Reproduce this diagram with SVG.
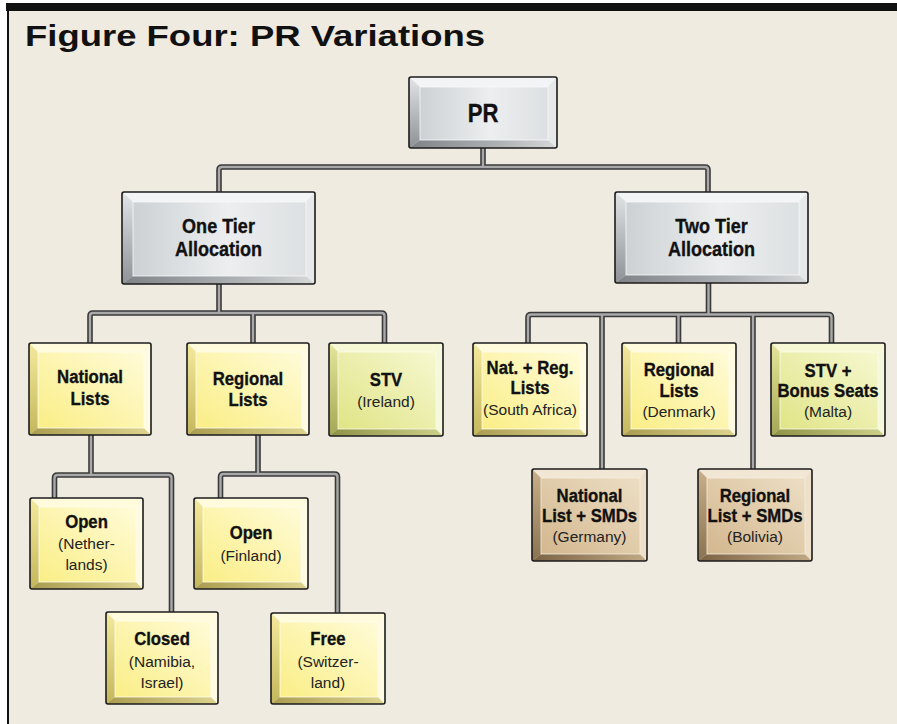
<svg xmlns="http://www.w3.org/2000/svg" width="897" height="724" viewBox="0 0 897 724">
<defs>
<style>
.b{font-family:"Liberation Sans",Arial,sans-serif;font-weight:bold;font-size:19px;fill:#111;stroke:#111;stroke-width:0.35;text-anchor:middle}
.b2{font-family:"Liberation Sans",Arial,sans-serif;font-weight:bold;font-size:20.5px;fill:#111;stroke:#111;stroke-width:0.35;text-anchor:middle}
.r{font-family:"Liberation Sans",Arial,sans-serif;font-size:15.5px;fill:#222;text-anchor:middle}
.ol{fill:none;stroke:#1c1c1c;stroke-width:1.6}
.co{fill:none;stroke:#3a3a3a;stroke-width:5.6;stroke-linejoin:round;stroke-linecap:butt}
.ci{fill:none;stroke:#a9a9a9;stroke-width:2.4;stroke-linejoin:round;stroke-linecap:butt}
.gT{fill:#f3f4f5}.gL{fill:url(#gLg)}.gB{fill:url(#gBg)}.gR{fill:#e6e8ea}.gF{fill:url(#gFg);stroke:#f8f9fa;stroke-width:0.8}
.yT{fill:#fffbdc}.yL{fill:url(#yLg)}.yB{fill:url(#yBg)}.yR{fill:#fffbe2}.yF{fill:url(#yFg);stroke:#fffdf0;stroke-width:0.8}
.vT{fill:#f7f9d6}.vL{fill:url(#vLg)}.vB{fill:url(#vBg)}.vR{fill:#f6f8dc}.vF{fill:url(#vFg);stroke:#fbfce8;stroke-width:0.8}
.tT{fill:#f2e7d4}.tL{fill:url(#tLg)}.tB{fill:url(#tBg)}.tR{fill:#eee0c8}.tF{fill:url(#tFg);stroke:#f6eee0;stroke-width:0.8}
</style>
<linearGradient id="gLg" x1="0" y1="0" x2="0" y2="1"><stop offset="0" stop-color="#e2e4e6"/><stop offset="1" stop-color="#8e9296"/></linearGradient>
<linearGradient id="gBg" x1="0" y1="0" x2="1" y2="0"><stop offset="0" stop-color="#7f8387"/><stop offset="0.6" stop-color="#aeb1b4"/><stop offset="1" stop-color="#d6d8da"/></linearGradient>
<linearGradient id="gFg" x1="0" y1="0" x2="1" y2="0"><stop offset="0" stop-color="#cdd1d4"/><stop offset="0.55" stop-color="#eceeef"/><stop offset="1" stop-color="#dde0e2"/></linearGradient>
<linearGradient id="yLg" x1="0" y1="0" x2="0" y2="1"><stop offset="0" stop-color="#f4ea9c"/><stop offset="1" stop-color="#c4b65c"/></linearGradient>
<linearGradient id="yBg" x1="0" y1="0" x2="1" y2="0"><stop offset="0" stop-color="#a99c50"/><stop offset="1" stop-color="#ded48e"/></linearGradient>
<linearGradient id="yFg" x1="0" y1="1" x2="1" y2="0"><stop offset="0" stop-color="#faee86"/><stop offset="1" stop-color="#fffbd8"/></linearGradient>
<linearGradient id="vLg" x1="0" y1="0" x2="0" y2="1"><stop offset="0" stop-color="#e4e79a"/><stop offset="1" stop-color="#a3a754"/></linearGradient>
<linearGradient id="vBg" x1="0" y1="0" x2="1" y2="0"><stop offset="0" stop-color="#8e9246"/><stop offset="1" stop-color="#ccd08a"/></linearGradient>
<linearGradient id="vFg" x1="0" y1="1" x2="1" y2="0"><stop offset="0" stop-color="#e0e486"/><stop offset="1" stop-color="#f6f8d0"/></linearGradient>
<linearGradient id="tLg" x1="0" y1="0" x2="0" y2="1"><stop offset="0" stop-color="#c9b08a"/><stop offset="1" stop-color="#8a7250"/></linearGradient>
<linearGradient id="tBg" x1="0" y1="0" x2="1" y2="0"><stop offset="0" stop-color="#7a6244"/><stop offset="1" stop-color="#c0aa86"/></linearGradient>
<linearGradient id="tFg" x1="0" y1="1" x2="1" y2="0"><stop offset="0" stop-color="#d3b78e"/><stop offset="1" stop-color="#ecdec4"/></linearGradient>
</defs>
<rect x="0" y="0" width="897" height="724" fill="#ffffff"/>
<rect x="8" y="3" width="889" height="721" fill="#efebe1"/>
<rect x="6" y="3" width="891" height="8" fill="#111"/>
<rect x="7" y="3" width="2" height="721" fill="#111"/>
<text x="25" y="46" font-family="Liberation Sans, Arial, sans-serif" font-weight="bold" font-size="30" fill="#111" textLength="460" lengthAdjust="spacingAndGlyphs">Figure Four: PR Variations</text>

<g id="connectors">
<path class="co" d="M483,148 V167 M219,192 V170 Q219,167 222,167 H705 Q708,167 708,170 V192"/>
<path class="ci" d="M483,148 V167 M219,192 V170 Q219,167 222,167 H705 Q708,167 708,170 V192"/>
<path class="co" d="M219,284 V313 M90,343 V316 Q90,313 93,313 H381.5 Q384.5,313 384.5,316 V343 M253,313 V343"/>
<path class="ci" d="M219,284 V313 M90,343 V316 Q90,313 93,313 H381.5 Q384.5,313 384.5,316 V343 M253,313 V343"/>
<path class="co" d="M708.5,283 V314.5 M528,343 V317.5 Q528,314.5 531,314.5 H828.5 Q831.5,314.5 831.5,317.5 V343 M602,314.5 V469 M678.5,314.5 V343 M753,314.5 V469"/>
<path class="ci" d="M708.5,283 V314.5 M528,343 V317.5 Q528,314.5 531,314.5 H828.5 Q831.5,314.5 831.5,317.5 V343 M602,314.5 V469 M678.5,314.5 V343 M753,314.5 V469"/>
<path class="co" d="M91,435 V475 M54.5,498 V478 Q54.5,475 57.5,475 H168.5 Q171.5,475 171.5,478 V612"/>
<path class="ci" d="M91,435 V475 M54.5,498 V478 Q54.5,475 57.5,475 H168.5 Q171.5,475 171.5,478 V612"/>
<path class="co" d="M258,435 V474 M220.5,498 V477 Q220.5,474 223.5,474 H334.5 Q337.5,474 337.5,477 V613"/>
<path class="ci" d="M258,435 V474 M220.5,498 V477 Q220.5,474 223.5,474 H334.5 Q337.5,474 337.5,477 V613"/>
</g>

<g id="node-pr" transform="translate(409,77)">
<polygon class="gT" points="0,0 148,0 139,10 11,10"/>
<polygon class="gL" points="0,0 11,10 11,63 0,71"/>
<polygon class="gB" points="0,71 11,63 139,63 148,71"/>
<polygon class="gR" points="148,0 148,71 139,63 139,10"/>
<rect class="gF" x="11" y="10" width="128" height="53"/>
<rect class="ol" x="0" y="0" width="148" height="71" rx="2"/>
<text class="b2" style="font-size:26px" transform="translate(74,45) scale(0.85,1)">PR</text>
</g>

<g id="node-one-tier" transform="translate(122,192)">
<polygon class="gT" points="0,0 193,0 184,10 11,10"/>
<polygon class="gL" points="0,0 11,10 11,84 0,92"/>
<polygon class="gB" points="0,92 11,84 184,84 193,92"/>
<polygon class="gR" points="193,0 193,92 184,84 184,10"/>
<rect class="gF" x="11" y="10" width="173" height="74"/>
<rect class="ol" x="0" y="0" width="193" height="92" rx="2"/>
<text class="b2" transform="translate(96.5,41) scale(0.88,1)">One Tier</text>
<text class="b2" transform="translate(96.5,64) scale(0.88,1)">Allocation</text>
</g>

<g id="node-two-tier" transform="translate(615,192)">
<polygon class="gT" points="0,0 193,0 184,10 11,10"/>
<polygon class="gL" points="0,0 11,10 11,83 0,91"/>
<polygon class="gB" points="0,91 11,83 184,83 193,91"/>
<polygon class="gR" points="193,0 193,91 184,83 184,10"/>
<rect class="gF" x="11" y="10" width="173" height="73"/>
<rect class="ol" x="0" y="0" width="193" height="91" rx="2"/>
<text class="b2" transform="translate(96.5,41) scale(0.88,1)">Two Tier</text>
<text class="b2" transform="translate(96.5,64) scale(0.88,1)">Allocation</text>
</g>

<g id="node-national-lists" transform="translate(29,343)">
<polygon class="yT" points="0,0 122,0 115,9 9,9"/>
<polygon class="yL" points="0,0 9,9 9,85 0,92"/>
<polygon class="yB" points="0,92 9,85 115,85 122,92"/>
<polygon class="yR" points="122,0 122,92 115,85 115,9"/>
<rect class="yF" x="9" y="9" width="106" height="76"/>
<rect class="ol" x="0" y="0" width="122" height="92" rx="2"/>
<text class="b" transform="translate(61,40) scale(0.88,1)">National</text>
<text class="b" transform="translate(61,62) scale(0.88,1)">Lists</text>
</g>

<g id="node-regional-lists" transform="translate(187,343)">
<polygon class="yT" points="0,0 122,0 115,9 9,9"/>
<polygon class="yL" points="0,0 9,9 9,85 0,92"/>
<polygon class="yB" points="0,92 9,85 115,85 122,92"/>
<polygon class="yR" points="122,0 122,92 115,85 115,9"/>
<rect class="yF" x="9" y="9" width="106" height="76"/>
<rect class="ol" x="0" y="0" width="122" height="92" rx="2"/>
<text class="b" transform="translate(61,42) scale(0.88,1)">Regional</text>
<text class="b" transform="translate(61,63) scale(0.88,1)">Lists</text>
</g>

<g id="node-stv" transform="translate(329,343)">
<polygon class="vT" points="0,0 114,0 107,9 9,9"/>
<polygon class="vL" points="0,0 9,9 9,86 0,93"/>
<polygon class="vB" points="0,93 9,86 107,86 114,93"/>
<polygon class="vR" points="114,0 114,93 107,86 107,9"/>
<rect class="vF" x="9" y="9" width="98" height="77"/>
<rect class="ol" x="0" y="0" width="114" height="93" rx="2"/>
<text class="b" transform="translate(57,43) scale(0.88,1)">STV</text>
<text class="r" x="57" y="64">(Ireland)</text>
</g>

<g id="node-nat-reg" transform="translate(473,343)">
<polygon class="yT" points="0,0 114,0 107,9 9,9"/>
<polygon class="yL" points="0,0 9,9 9,86 0,93"/>
<polygon class="yB" points="0,93 9,86 107,86 114,93"/>
<polygon class="yR" points="114,0 114,93 107,86 107,9"/>
<rect class="yF" x="9" y="9" width="98" height="77"/>
<rect class="ol" x="0" y="0" width="114" height="93" rx="2"/>
<text class="b" transform="translate(57,31) scale(0.88,1)">Nat. + Reg.</text>
<text class="b" transform="translate(57,51) scale(0.88,1)">Lists</text>
<text class="r" x="57" y="72">(South Africa)</text>
</g>

<g id="node-denmark" transform="translate(622,343)">
<polygon class="yT" points="0,0 114,0 107,9 9,9"/>
<polygon class="yL" points="0,0 9,9 9,86 0,93"/>
<polygon class="yB" points="0,93 9,86 107,86 114,93"/>
<polygon class="yR" points="114,0 114,93 107,86 107,9"/>
<rect class="yF" x="9" y="9" width="98" height="77"/>
<rect class="ol" x="0" y="0" width="114" height="93" rx="2"/>
<text class="b" transform="translate(57,33) scale(0.88,1)">Regional</text>
<text class="b" transform="translate(57,54) scale(0.88,1)">Lists</text>
<text class="r" x="57" y="74">(Denmark)</text>
</g>

<g id="node-malta" transform="translate(771,343)">
<polygon class="vT" points="0,0 114,0 107,9 9,9"/>
<polygon class="vL" points="0,0 9,9 9,86 0,93"/>
<polygon class="vB" points="0,93 9,86 107,86 114,93"/>
<polygon class="vR" points="114,0 114,93 107,86 107,9"/>
<rect class="vF" x="9" y="9" width="98" height="77"/>
<rect class="ol" x="0" y="0" width="114" height="93" rx="2"/>
<text class="b" transform="translate(57,34) scale(0.88,1)">STV +</text>
<text class="b" transform="translate(57,54) scale(0.88,1)">Bonus Seats</text>
<text class="r" x="57" y="74">(Malta)</text>
</g>

<g id="node-germany" transform="translate(532,469)">
<polygon class="tT" points="0,0 115,0 108,9 9,9"/>
<polygon class="tL" points="0,0 9,9 9,85 0,92"/>
<polygon class="tB" points="0,92 9,85 108,85 115,92"/>
<polygon class="tR" points="115,0 115,92 108,85 108,9"/>
<rect class="tF" x="9" y="9" width="99" height="76"/>
<rect class="ol" x="0" y="0" width="115" height="92" rx="2"/>
<text class="b" transform="translate(57.5,33) scale(0.88,1)">National</text>
<text class="b" transform="translate(57.5,53) scale(0.88,1)">List + SMDs</text>
<text class="r" x="57.5" y="73">(Germany)</text>
</g>

<g id="node-bolivia" transform="translate(698,469)">
<polygon class="tT" points="0,0 114,0 107,9 9,9"/>
<polygon class="tL" points="0,0 9,9 9,85 0,92"/>
<polygon class="tB" points="0,92 9,85 107,85 114,92"/>
<polygon class="tR" points="114,0 114,92 107,85 107,9"/>
<rect class="tF" x="9" y="9" width="98" height="76"/>
<rect class="ol" x="0" y="0" width="114" height="92" rx="2"/>
<text class="b" transform="translate(57,33) scale(0.88,1)">Regional</text>
<text class="b" transform="translate(57,53) scale(0.88,1)">List + SMDs</text>
<text class="r" x="57" y="73">(Bolivia)</text>
</g>

<g id="node-open-netherlands" transform="translate(30,498)">
<polygon class="yT" points="0,0 113,0 106,9 9,9"/>
<polygon class="yL" points="0,0 9,9 9,84 0,91"/>
<polygon class="yB" points="0,91 9,84 106,84 113,91"/>
<polygon class="yR" points="113,0 113,91 106,84 106,9"/>
<rect class="yF" x="9" y="9" width="97" height="75"/>
<rect class="ol" x="0" y="0" width="113" height="91" rx="2"/>
<text class="b" transform="translate(56.5,30) scale(0.88,1)">Open</text>
<text class="r" x="56.5" y="51">(Nether-</text>
<text class="r" x="56.5" y="72">lands)</text>
</g>

<g id="node-closed" transform="translate(106,612)">
<polygon class="yT" points="0,0 112,0 105,9 9,9"/>
<polygon class="yL" points="0,0 9,9 9,85 0,92"/>
<polygon class="yB" points="0,92 9,85 105,85 112,92"/>
<polygon class="yR" points="112,0 112,92 105,85 105,9"/>
<rect class="yF" x="9" y="9" width="96" height="76"/>
<rect class="ol" x="0" y="0" width="112" height="92" rx="2"/>
<text class="b" transform="translate(56,33) scale(0.88,1)">Closed</text>
<text class="r" x="56" y="55">(Namibia,</text>
<text class="r" x="56" y="76">Israel)</text>
</g>

<g id="node-open-finland" transform="translate(194,498)">
<polygon class="yT" points="0,0 114,0 107,9 9,9"/>
<polygon class="yL" points="0,0 9,9 9,84 0,91"/>
<polygon class="yB" points="0,91 9,84 107,84 114,91"/>
<polygon class="yR" points="114,0 114,91 107,84 107,9"/>
<rect class="yF" x="9" y="9" width="98" height="75"/>
<rect class="ol" x="0" y="0" width="114" height="91" rx="2"/>
<text class="b" transform="translate(57,41) scale(0.88,1)">Open</text>
<text class="r" x="57" y="63">(Finland)</text>
</g>

<g id="node-free" transform="translate(271,613)">
<polygon class="yT" points="0,0 114,0 107,9 9,9"/>
<polygon class="yL" points="0,0 9,9 9,84 0,91"/>
<polygon class="yB" points="0,91 9,84 107,84 114,91"/>
<polygon class="yR" points="114,0 114,91 107,84 107,9"/>
<rect class="yF" x="9" y="9" width="98" height="75"/>
<rect class="ol" x="0" y="0" width="114" height="91" rx="2"/>
<text class="b" transform="translate(57,32) scale(0.88,1)">Free</text>
<text class="r" x="57" y="54">(Switzer-</text>
<text class="r" x="57" y="75">land)</text>
</g>
</svg>
